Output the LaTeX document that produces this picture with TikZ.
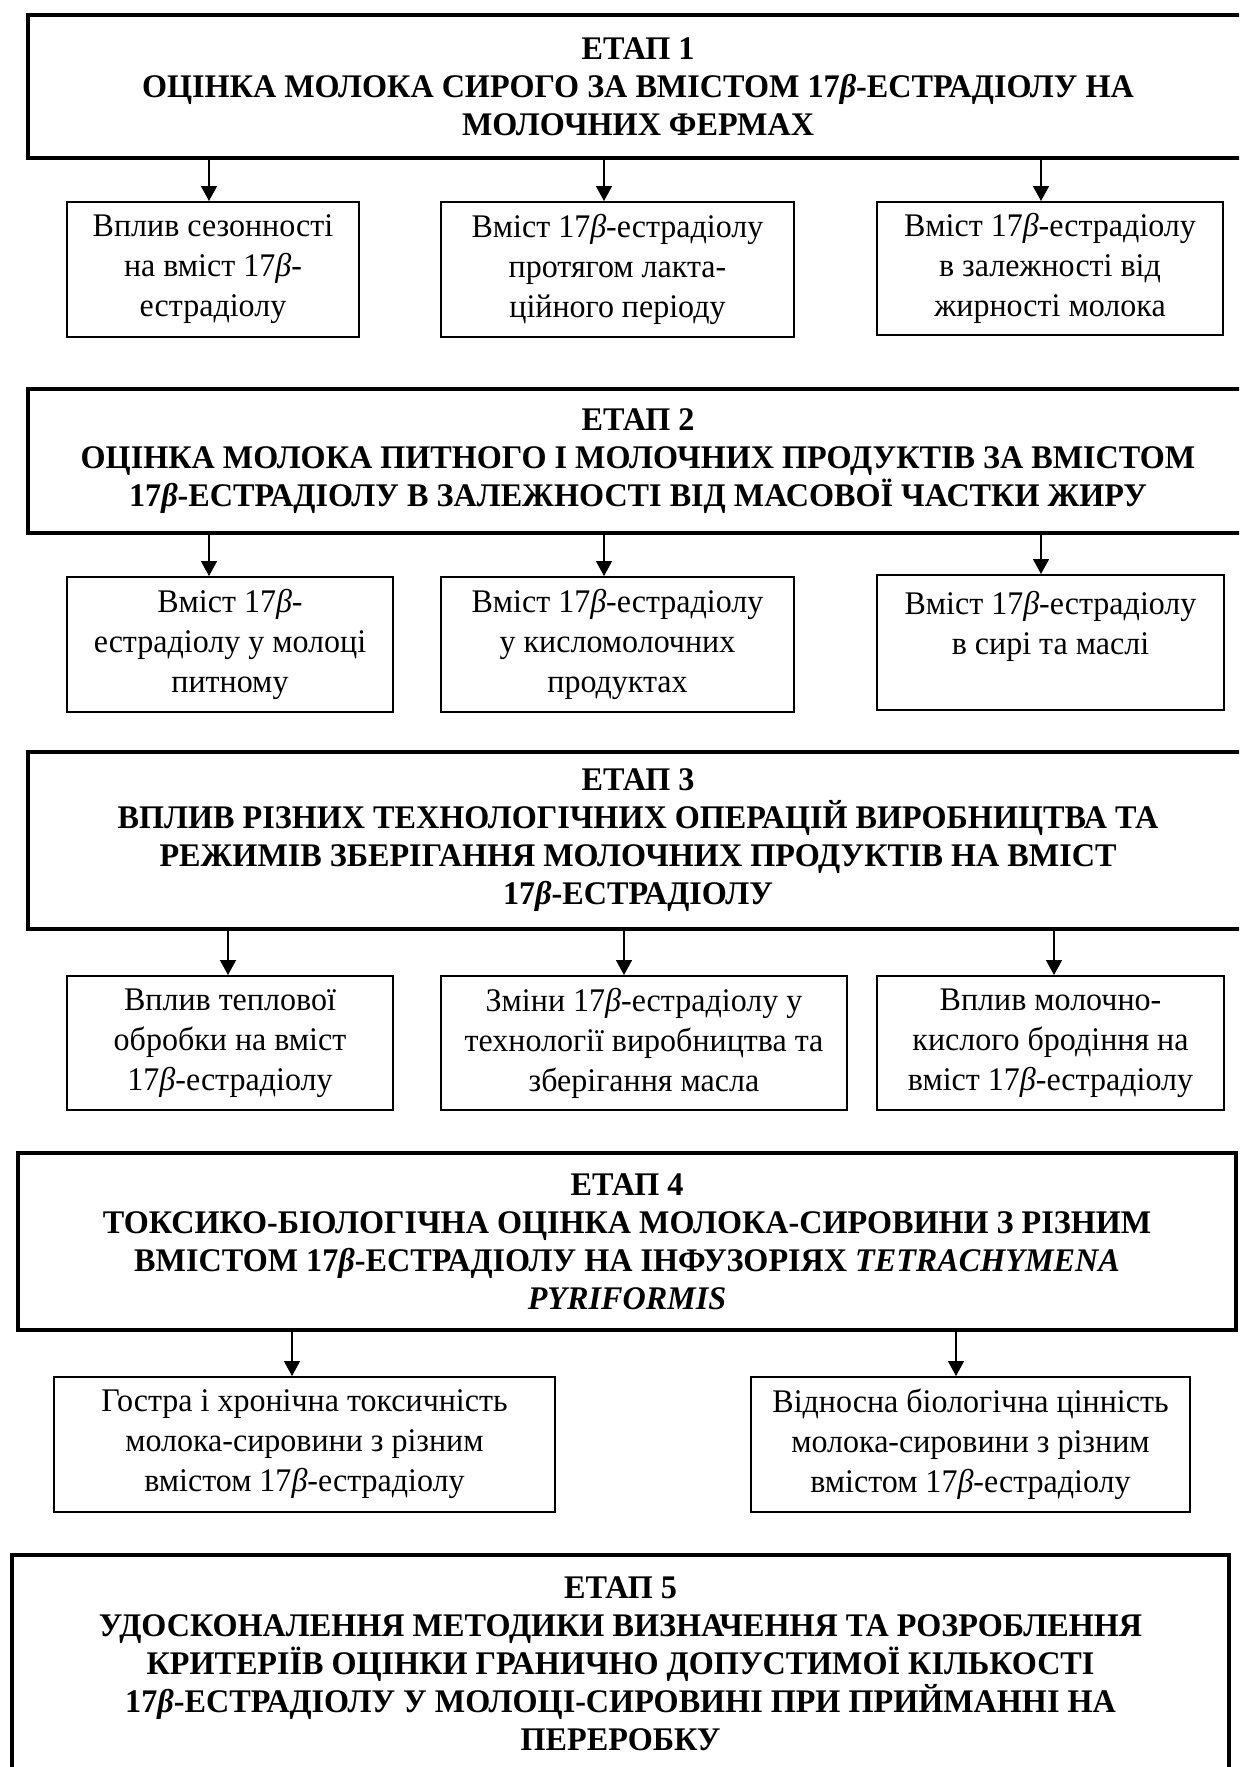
\documentclass[tikz,border=0pt]{standalone}
\usepackage{fontspec}
\setmainfont{Liberation Serif}[FakeStretch=0.97, BoldFeatures={FakeStretch=0.975}, BoldItalicFeatures={FakeStretch=0.975}]
\usetikzlibrary{arrows.meta}

\newcommand{\estr}{17\textit{β}}

\begin{document}
\begin{tikzpicture}[
    x=0.5pt, y=-0.5pt,
    etap/.style={rectangle, draw=black, line width=1.8pt, inner sep=0pt, align=center, font=\fontsize{16.5}{19}\selectfont\bfseries},
    item/.style={rectangle, draw=black, line width=1pt, inner sep=0pt, align=center, font=\fontsize{16.5}{20}\selectfont},
    arr/.style={-{Triangle[length=7.5pt, width=8pt]}, line width=0.75pt}
]
\useasboundingbox (0,0) rectangle (1239,1767);
\clip (0,0) rectangle (1239,1767);

% etap 1
\node[etap, minimum width=610pt, minimum height=71.5pt] (etap1) at (638,86.5) {ЕТАП 1 \\ ОЦІНКА МОЛОКА СИРОГО ЗА ВМІСТОМ \estr-ЕСТРАДІОЛУ НА \\ МОЛОЧНИХ ФЕРМАХ};
\node[item, minimum width=146pt, minimum height=67.5pt] (season) at (213,269.5) {Вплив сезонності \\ на вміст \estr- \\ естрадіолу};
\node[item, minimum width=176.5pt, minimum height=67.5pt] (lact) at (617.5,269.5) {Вміст \estr-естрадіолу \\ протягом лакта- \\ ційного періоду};
\node[item, minimum width=173pt, minimum height=66.5pt] (fat) at (1050,268.5) {Вміст \estr-естрадіолу \\ в залежності від \\ жирності молока};

% etap 2
\node[etap, minimum width=610pt, minimum height=72pt] (etap2) at (638,461) {ЕТАП 2 \\ ОЦІНКА МОЛОКА ПИТНОГО І МОЛОЧНИХ ПРОДУКТІВ ЗА ВМІСТОМ \\ \estr-ЕСТРАДІОЛУ В ЗАЛЕЖНОСТІ ВІД МАСОВОЇ ЧАСТКИ ЖИРУ};
\node[item, minimum width=163pt, minimum height=67.5pt] (drink) at (230,644.5) {Вміст \estr- \\ естрадіолу у молоці \\ питному};
\node[item, minimum width=176.5pt, minimum height=67.5pt] (sour) at (617.5,644.5) {Вміст \estr-естрадіолу \\ у кисломолочних \\ продуктах};
\node[item, minimum width=173.5pt, minimum height=67.5pt] (cheese) at (1050.5,642.5) {Вміст \estr-естрадіолу \\ в сирі та маслі \\ ~};

% etap 3
\node[etap, minimum width=610pt, minimum height=88.5pt] (etap3) at (638,840.5) {ЕТАП 3 \\ ВПЛИВ РІЗНИХ ТЕХНОЛОГІЧНИХ ОПЕРАЦІЙ ВИРОБНИЦТВА ТА \\ РЕЖИМІВ ЗБЕРІГАННЯ МОЛОЧНИХ ПРОДУКТІВ НА ВМІСТ \\ \estr-ЕСТРАДІОЛУ};
\node[item, minimum width=163pt, minimum height=67pt] (heat) at (230,1043) {Вплив теплової \\ обробки на вміст \\ \estr-естрадіолу};
\node[item, minimum width=203pt, minimum height=67pt] (butter) at (644,1043) {Зміни \estr-естрадіолу у \\ технології виробництва та \\ зберігання масла};
\node[item, minimum width=173.5pt, minimum height=67pt] (ferment) at (1050.5,1043) {Вплив молочно- \\ кислого бродіння на \\ вміст \estr-естрадіолу};

% etap 4
\node[etap, minimum width=609pt, minimum height=88.5pt] (etap4) at (627,1241.5) {ЕТАП 4 \\ ТОКСИКО-БІОЛОГІЧНА ОЦІНКА МОЛОКА-СИРОВИНИ З РІЗНИМ \\ ВМІСТОМ \estr-ЕСТРАДІОЛУ НА ІНФУЗОРІЯХ \textit{TETRACHYMENA} \\ \textit{PYRIFORMIS}};
\node[item, minimum width=250.5pt, minimum height=67.5pt] (toxic) at (304.5,1444.5) {Гостра і хронічна токсичність \\ молока-сировини з різним \\ вмістом \estr-естрадіолу};
\node[item, minimum width=219.5pt, minimum height=67.5pt] (bioval) at (970.5,1444.5) {Відносна біологічна цінність \\ молока-сировини з різним \\ вмістом \estr-естрадіолу};

% etap 5
\node[etap, minimum width=608.5pt, minimum height=108.5pt] (etap5) at (620.5,1663.5) {ЕТАП 5 \\ УДОСКОНАЛЕННЯ МЕТОДИКИ ВИЗНАЧЕННЯ ТА РОЗРОБЛЕННЯ \\ КРИТЕРІЇВ ОЦІНКИ ГРАНИЧНО ДОПУСТИМОЇ КІЛЬКОСТІ \\ \estr-ЕСТРАДІОЛУ У МОЛОЦІ-СИРОВИНІ ПРИ ПРИЙМАННІ НА \\ ПЕРЕРОБКУ};

\draw[arr] ([xshift=-2pt]season.north |- etap1.south) -- ([xshift=-2pt]season.north);
\draw[arr] ([xshift=-6.75pt]lact.north |- etap1.south) -- ([xshift=-6.75pt]lact.north);
\draw[arr] ([xshift=-4.5pt]fat.north |- etap1.south) -- ([xshift=-4.5pt]fat.north);

\draw[arr] ([xshift=-10.5pt]drink.north |- etap2.south) -- ([xshift=-10.5pt]drink.north);
\draw[arr] ([xshift=-6.75pt]sour.north |- etap2.south) -- ([xshift=-6.75pt]sour.north);
\draw[arr] ([xshift=-4.75pt]cheese.north |- etap2.south) -- ([xshift=-4.75pt]cheese.north);

\draw[arr] ([xshift=-1pt]heat.north |- etap3.south) -- ([xshift=-1pt]heat.north);
\draw[arr] ([xshift=-10pt]butter.north |- etap3.south) -- ([xshift=-10pt]butter.north);
\draw[arr] ([xshift=1.75pt]ferment.north |- etap3.south) -- ([xshift=1.75pt]ferment.north);

\draw[arr] ([xshift=-6.25pt]toxic.north |- etap4.south) -- ([xshift=-6.25pt]toxic.north);
\draw[arr] ([xshift=-7.25pt]bioval.north |- etap4.south) -- ([xshift=-7.25pt]bioval.north);

\end{tikzpicture}
\end{document}
